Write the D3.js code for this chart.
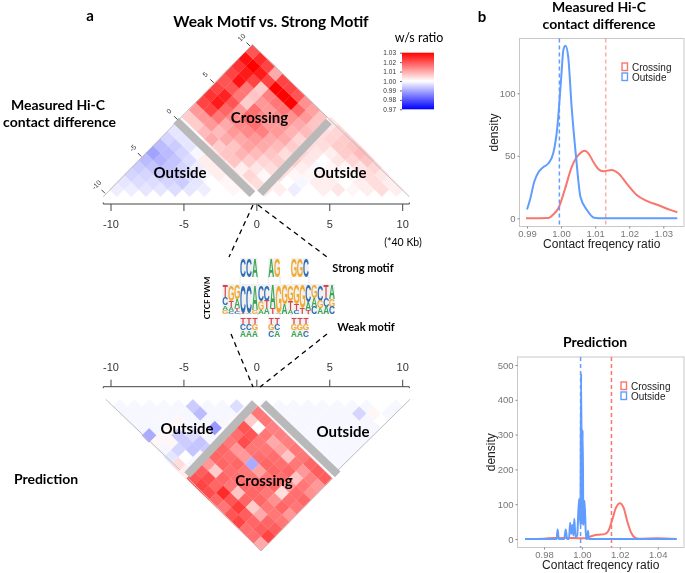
<!DOCTYPE html>
<html>
<head>
<meta charset="utf-8">
<script src="https://d3js.org/d3.v7.min.js"></script>
<style>
  html, body { margin: 0; padding: 0; background: #fff; }
  svg { display: block; filter: blur(0.3px); }
  text { font-family: "Liberation Sans", Arial, sans-serif; }
  .label { font-family: Lato, "Open Sans", sans-serif; fill: #000; }
  .bold { font-weight: 700; }
</style>
</head>
<body>
<div id="chart"></div>
<script>
// ---- heatmap values, w/s ratio ----
// crossing: row = bins left of the motif, column = bins right of the motif
const measuredCrossing = [
  [1.004,1.001,1.004,1.006,1.004,1.006,1.005,1.008,1.007,1.007],
  [1.005,1.003,1.005,1.007,1.008,1.010,1.009,1.010,1.012,1.011],
  [1.002,1.006,1.008,1.010,1.010,1.012,1.012,1.013,1.018,1.013],
  [1.007,1.009,1.011,1.012,1.015,1.012,1.014,1.016,1.030,1.020],
  [1.007,1.007,1.010,1.014,1.017,1.014,1.012,1.016,1.030,1.022],
  [1.006,1.010,1.012,1.014,1.018,1.017,1.012,1.015,1.030,1.022],
  [1.010,1.008,1.010,1.014,1.012,1.006,1.007,1.006,1.022,1.010],
  [1.008,1.012,1.016,1.018,1.020,1.016,1.016,1.022,1.027,1.022],
  [1.006,1.012,1.022,1.027,1.026,1.020,1.028,1.027,1.030,1.025],
  [1.006,1.012,1.022,1.024,1.022,1.020,1.022,1.024,1.028,1.020]
];
// outside: row = distance from the diagonal, column = position along it
const measuredLeft = [
  [.998,.998,.997,.997,.996,.997,.998,1.000,1.001,1.002],
  [.997,.996,.996,.995,.994,.997,1.000,1.001,1.002],
  [.995,.995,.994,.994,.996,.999,1.002,1.003],
  [.994,.993,.993,.995,.998,1.002,1.003],
  [.992,.991,.993,.996,1.002,1.004],
  [.989,.992,.995,.999,1.003],
  [.992,.994,.997,1.002],
  [.995,.997,1.000],
  [.997,.999],
  [.999]
];
const measuredRight = [
  [1.003,1.002,.998,1.000,1.002,1.003,1.001,1.002,1.004,1.002],
  [1.002,1.000,.999,1.002,1.002,1.000,1.002,1.004,1.002],
  [1.004,1.001,1.001,1.002,1.001,1.001,1.004,1.003],
  [1.004,1.002,.999,1.001,1.001,1.003,1.005],
  [1.006,1.003,1.000,1.003,1.005,1.007],
  [1.005,1.003,1.002,1.006,1.008],
  [1.004,1.004,1.006,1.007],
  [1.004,1.005,1.006],
  [1.004,1.005],
  [1.003]
];
const predictedCrossing = [
  [1.016,1.016,1.015,1.015,1.015,1.016,1.016,1.018,1.019,1.019],
  [1.006,1.000,1.016,1.010,1.011,1.007,1.016,1.012,1.015,1.012],
  [1.020,1.020,1.016,1.016,1.017,1.017,1.018,1.007,1.016,1.013],
  [1.017,1.021,1.016,1.017,1.018,1.018,1.017,1.012,1.017,1.018],
  [1.016,1.012,1.012,.990,1.011,1.016,1.018,1.004,1.017,1.016],
  [1.018,1.017,1.018,1.016,1.016,1.018,1.016,1.013,1.018,1.012],
  [1.018,1.018,1.017,1.017,1.018,1.018,1.018,1.016,1.016,1.016],
  [1.012,1.006,1.018,1.016,1.007,1.018,1.006,1.010,1.018,1.019],
  [1.019,1.021,1.018,1.025,1.020,1.023,1.019,1.018,1.019,1.022],
  [1.020,1.022,1.021,1.018,1.016,1.020,1.022,1.017,1.017,1.010]
];
const predictedLeft = [
  [.999,.999,.999,.999,.999,.994,.999,.999,.996,.999],
  [.999,.999,.999,.999,.999,.992,.999,.999,.999],
  [.999,.999,.999,1.001,.999,.999,.999,1.001],
  [.999,.999,1.001,.999,.999,.988,1.001],
  [.990,1.001,.994,.996,.999,1.000],
  [1.001,1.001,.994,.993,.999],
  [.999,.995,.993,.994],
  [.997,1.000,.999],
  [1.004,.999],
  [1.002]
];
const predictedRight = [
  [.999,.999,.999,.999,.999,.999,.999,.999,1.000,.999],
  [.999,.999,.999,.999,.999,.999,.995,1.001,.999],
  [.999,.999,.999,.999,.999,.999,.999,1.000],
  [.999,.999,.999,.999,.999,.999,.999],
  [.999,.999,.999,.999,.999,.999],
  [.999,.999,.999,.999,.999],
  [.999,.999,.999,.999],
  [.999,.999,.999],
  [.999,.999],
  [.999]
];
const legendTicks = [0.97,0.98,0.99,1.00,1.01,1.02,1.03];
const axisTicks = [-10,-5,0,5,10];

// ---- density curves, [ratio, density] ----
const measuredOutside = [[.99,7],[.9909,15],[.9921,29],[.9934,37],[.9948,41],[.9963,44],[.9977,52],[.9989,73],[1.0,111],[1.0007,135],[1.0013,138],[1.0021,129],[1.0031,89],[1.0044,49],[1.0057,17],[1.0075,7],[1.0097,.5],[1.0124,0],[1.0341,0]];
const measuredCrossCurve = [[.9897,0],[.9963,.3],[.9977,3],[.9992,8],[1.0011,23],[1.0031,41],[1.0046,49],[1.006,53],[1.007,54],[1.008,52],[1.0095,45],[1.0109,39.5],[1.0124,37.6],[1.0148,38.7],[1.0168,36],[1.0192,28],[1.0222,18.7],[1.0251,14],[1.029,10],[1.032,6.7],[1.0341,4.8]];
const predictedOutside = [[.97,0],[.9866,0],[.9872,27],[.9878,0],[.9906,0],[.9915,27],[.9922,0],[.9932,0],[.9938,47],[.9944,15],[.995,40],[.9955,10],[.996,58],[.9966,5],[.9975,10],[.9985,115],[.9992,40],[.9996,476],[1.0,40],[1.0004,313],[1.0008,40],[1.0014,110],[1.0022,0],[1.0028,0],[1.0032,24],[1.0037,0],[1.05,0]];
const predictedCrossCurve = [[.97,0],[.98,1],[.985,3],[.995,3],[1.002,2],[1.005,8],[1.008,12],[1.012,14],[1.014,24],[1.016,55],[1.018,90],[1.02,103],[1.022,90],[1.024,50],[1.026,18],[1.028,4],[1.03,1],[1.04,2],[1.05,0]];
const measuredMeans = [1.0131, .9995];
const predictedMeans = [1.0156, .9993];
const seriesNames = ["Crossing","Outside"];
const seriesColors = ["#F8766D","#619CFF"];

// ---- motif logos, each column top to bottom as [base, weight] ----
const ctcfLogo = [
  [["T",.45],["C",.25],["A",.15],["G",.15]],
  [["G",.55],["T",.2],["A",.15],["C",.1]],
  [["G",.5],["A",.3],["T",.1],["C",.1]],
  [["C",.95],["T",.05]],
  [["C",.95],["A",.05]],
  [["A",.85],["G",.15]],
  [["C",.55],["G",.3],["A",.15]],
  [["C",.55],["T",.25],["A",.2]],
  [["A",.8],["T",.2]],
  [["G",.95],["A",.05]],
  [["G",.65],["A",.35]],
  [["G",.55],["T",.3],["A",.15]],
  [["G",.65],["T",.2],["C",.15]],
  [["G",.8],["T",.2]],
  [["C",.6],["A",.25],["T",.15]],
  [["G",.45],["A",.3],["C",.25]],
  [["C",.55],["G",.25],["A",.2]],
  [["T",.45],["C",.3],["A",.25]],
  [["A",.5],["G",.25],["C",.25]]
];
const strongLogos = [
  {start:3, cols:[[["C",1]],[["C",1]],[["A",1]]]},
  {start:7.75, cols:[[["A",1]],[["G",1]]]},
  {start:11.6, cols:[[["G",1]],[["G",1]],[["C",1]]]}
];
const weakLogos = [
  {start:3, cols:[[["T",.34],["C",.33],["A",.33]],[["T",.34],["C",.33],["A",.33]],[["T",.34],["G",.33],["A",.33]]]},
  {start:7.75, cols:[[["T",.34],["G",.33],["C",.33]],[["T",.34],["C",.33],["A",.33]]]},
  {start:11.6, cols:[[["T",.34],["G",.33],["A",.33]],[["T",.34],["G",.33],["A",.33]],[["T",.34],["G",.33],["C",.33]]]}
];
const baseColors = {A:"#3aa655", C:"#2f6db5", G:"#f3a92f", T:"#d8434e"};

const svg = d3.select("#chart").append("svg")
    .attr("width", 685)
    .attr("height", 573);

const color = d3.scaleLinear().domain([.97,1,1.03]).range(["#0000ff","#ffffff","#ff0000"]);
const xBins = d3.scaleLinear().domain([-10,10]).range([111,402.7]);

function crossingCells(matrix) {
  let cells = [];
  matrix.forEach(function(row, i) {
    row.forEach(function(v, j) {
      cells.push({m: (j - i) / 2, d: (i + j) / 2, v: v});
    });
  });
  return cells;
}

function outsideCells(matrix, start) {
  let cells = [];
  matrix.forEach(function(row, k) {
    row.forEach(function(v, p) {
      cells.push({m: start + p + k / 2 + .5, d: k / 2, v: v});
    });
  });
  return cells;
}

// draw diamonds; px maps (bin position, distance) to a screen point
function drawCells(cells, px) {
  svg.append("g").selectAll("path")
    .data(cells)
    .enter()
    .append("path")
    .attr("d", function(c) {
      return "M" + [px(c.m - .5, c.d + .5), px(c.m, c.d + 1), px(c.m + .5, c.d + .5), px(c.m, c.d)].join("L") + "Z";
    })
    .attr("fill", function(c) { return color(c.v); })
    .attr("stroke", function(c) { return color(c.v); })
    .attr("stroke-width", .3);
}

function projector(dx, shear, yScale) {
  return function(m, d) {
    return [xBins(m) + dx + shear * d, yScale(d)];
  };
}

function drawEdge(points, stroke) {
  svg.append("path")
    .attr("d", d3.line()(points))
    .attr("fill", "none")
    .attr("stroke", stroke)
    .attr("stroke-width", 1);
}

function drawBand(px, ends) {
  svg.append("path")
    .attr("d", d3.line()(ends.map(function(e) { return px(e[0], e[1]); })))
    .attr("fill", "none")
    .attr("stroke", "#b9b9b9")
    .attr("stroke-width", 8);
}

// top triangle
const yTopCross = d3.scaleLinear().domain([0,10]).range([190,44.5]);
const yTopOut = d3.scaleLinear().domain([0,10]).range([196.7,50.9]);
const topCross = projector(.3, -.47, yTopCross);
const topLeft = projector(-1.5, 0, yTopOut);
const topRight = projector(1, 0, yTopOut);
drawCells(outsideCells(measuredLeft, -10), topLeft);
drawCells(outsideCells(measuredRight, 0), topRight);
drawCells(crossingCells(measuredCrossing), topCross);
drawEdge([[103.3,196.7],[252.3,44.5],[409.3,196.7]], "#bdbdbd");
drawBand(topCross, [[-5.4,4.76],[-.33,-.29]]);
drawBand(topCross, [[5.06,4.71],[.2,-.23]]);

// bottom triangle
const yBotCross = d3.scaleLinear().domain([0,10]).range([406,551]);
const yBotOut = d3.scaleLinear().domain([0,10]).range([399.3,544.3]);
const botCross = projector(1, .33, yBotCross);
const botLeft = projector(1.7, 0, yBotOut);
const botRight = projector(.3, 0, yBotOut);
drawCells(outsideCells(predictedLeft, -10), botLeft);
drawCells(outsideCells(predictedRight, 0), botRight);
drawCells(crossingCells(predictedCrossing), botCross);
drawEdge([[105.7,399.3],[180,470]], "#bdbdbd");
drawEdge([[410,399.3],[338,470]], "#bdbdbd");
drawEdge([[188,478],[261,551],[332,478]], "#d9b0b0");
drawBand(botCross, [[-.2,-.2],[-4.95,4.76]]);
drawBand(botCross, [[.38,-.2],[5.37,4.72]]);

// horizontal bin axes
function drawBinAxis(y, dir) {
  let g = svg.append("g").attr("stroke", "#444");
  g.append("path")
    .attr("d", d3.line()([[103.3, y + dir * -1.5], [103.3, y], [409.3, y], [409.3, y + dir * -1.5]]))
    .attr("fill", "none");
  g.selectAll("line").data(axisTicks).enter().append("line")
    .attr("x1", function(d) { return xBins(d); })
    .attr("x2", function(d) { return xBins(d); })
    .attr("y1", y)
    .attr("y2", y + dir * 7);
  svg.append("g").selectAll("text").data(axisTicks).enter().append("text")
    .attr("x", function(d) { return xBins(d); })
    .attr("y", y + dir * 20 + 4)
    .attr("text-anchor", "middle")
    .attr("font-size", 11)
    .attr("fill", "#333")
    .text(function(d) { return d; });
}
drawBinAxis(204, 1);
drawBinAxis(386.7, -1);

// diagonal axis of the top triangle
const diagX = d3.scaleLinear().domain([-10,10]).range([105,250]);
const diagY = d3.scaleLinear().domain([-10,10]).range([193.3,46]);
const diag = svg.append("g");
diag.selectAll("line").data(axisTicks).enter().append("line")
  .attr("x1", function(d) { return diagX(d); })
  .attr("y1", function(d) { return diagY(d); })
  .attr("x2", function(d) { return diagX(d) - 3.5; })
  .attr("y2", function(d) { return diagY(d) - 3.5; })
  .attr("stroke", "#444");
diag.selectAll("text").data(axisTicks).enter().append("text")
  .attr("transform", function(d) {
    return "translate(" + (diagX(d) - 8.5) + "," + (diagY(d) - 8.5) + ") rotate(-45)";
  })
  .attr("text-anchor", "middle")
  .attr("dy", "0.35em")
  .attr("font-size", 7)
  .attr("fill", "#333")
  .text(function(d) { return d; });

// colour key
const legendY = d3.scaleLinear().domain([.97,1.03]).range([109.3,52.7]);
const gradient = svg.append("defs").append("linearGradient")
  .attr("id", "key")
  .attr("x1", 0).attr("x2", 0).attr("y1", 1).attr("y2", 0);
gradient.selectAll("stop").data(legendTicks).enter().append("stop")
  .attr("offset", function(d) { return (d - .97) / .06; })
  .attr("stop-color", function(d) { return color(d); });
svg.append("rect")
  .attr("x", 402)
  .attr("y", legendY(1.03))
  .attr("width", 32)
  .attr("height", legendY(.97) - legendY(1.03))
  .attr("fill", "url(#key)");
const keyAxis = svg.append("g")
  .attr("transform", "translate(402,0)")
  .call(d3.axisLeft(legendY).tickValues(legendTicks).tickFormat(d3.format(".2f")).tickSize(2));
keyAxis.select(".domain").remove();
keyAxis.selectAll("text").attr("font-size", 6.5).attr("font-family", "Liberation Sans").attr("fill", "#333").attr("x", -6);
keyAxis.selectAll("line").attr("stroke", "#666");

// dashed guides from the motif to the axes
const guides = [
  [[253,205],[229,257]],
  [[258,205],[327,257]],
  [[231,334],[253,387]],
  [[327,334],[260,387]]
];
guides.forEach(function(g) {
  svg.append("path")
    .attr("d", d3.line()(g))
    .attr("stroke", "#000")
    .attr("stroke-width", 1.3)
    .attr("stroke-dasharray", "5,4");
});

// motif logos
const logoX = d3.scaleLinear().domain([0,19]).range([222.3,335]);

function drawLogo(cols, start, top, height) {
  let colW = logoX(1) - logoX(0);
  let x0 = logoX(start);
  svg.append("rect")
    .attr("x", x0)
    .attr("y", top)
    .attr("width", colW * cols.length)
    .attr("height", height)
    .attr("fill", "#f1f1f1");
  cols.forEach(function(stack, c) {
    let y = top;
    stack.forEach(function(s) {
      let h = s[1] * height;
      y += h;
      svg.append("text")
        .attr("transform", "translate(" + (x0 + (c + .5) * colW) + "," + y + ") scale(" + (colW / 7.2) + "," + (h / 7.3) + ")")
        .attr("text-anchor", "middle")
        .attr("font-size", 10)
        .attr("font-weight", 700)
        .attr("fill", baseColors[s[0]])
        .text(s[0]);
    });
  });
}

// dotted drops joining the small logos to the full motif
function drawDrops(logos, y1, y2) {
  logos.forEach(function(l) {
    [l.start, l.start + l.cols.length].forEach(function(e) {
      svg.append("line")
        .attr("x1", logoX(e)).attr("x2", logoX(e))
        .attr("y1", y1).attr("y2", y2)
        .attr("stroke", "#aaa")
        .attr("stroke-width", .6)
        .attr("stroke-dasharray", "1,1.5");
    });
  });
}
drawDrops(strongLogos, 277, 284);
drawDrops(weakLogos, 314, 317);
drawLogo(ctcfLogo, 0, 284, 30);
strongLogos.forEach(function(l) { drawLogo(l.cols, l.start, 258, 19); });
weakLogos.forEach(function(l) { drawLogo(l.cols, l.start, 317, 19.5); });

// density panels
function densityPanel(o) {
  let x = d3.scaleLinear().domain(o.xDomain).range(o.xRange);
  let y = d3.scaleLinear().domain(o.yDomain).range(o.yRange);
  svg.append("rect")
    .attr("x", o.box[0]).attr("y", o.box[1])
    .attr("width", o.box[2] - o.box[0]).attr("height", o.box[3] - o.box[1])
    .attr("fill", "#fff").attr("stroke", "#c8c8c8").attr("stroke-width", 1);
  let line = d3.line()
    .x(function(d) { return x(d[0]); })
    .y(function(d) { return y(d[1]); })
    .curve(o.curve);
  o.curves.forEach(function(c, i) {
    svg.append("path")
      .attr("d", line(c))
      .attr("fill", "none")
      .attr("stroke", seriesColors[i])
      .attr("stroke-width", 2);
    svg.append("line")
      .attr("x1", x(o.means[i])).attr("x2", x(o.means[i]))
      .attr("y1", o.box[1]).attr("y2", o.box[3])
      .attr("stroke", seriesColors[i])
      .attr("stroke-width", 1.5)
      .attr("stroke-opacity", o.meanOpacity[i])
      .attr("stroke-dasharray", "4,3");
  });
  let xAxis = svg.append("g")
    .attr("transform", "translate(0," + o.box[3] + ")")
    .call(d3.axisBottom(x).tickValues(o.xTicks).tickFormat(d3.format(".2f")).tickSize(2).tickPadding(2));
  let yAxis = svg.append("g")
    .attr("transform", "translate(" + o.box[0] + ",0)")
    .call(d3.axisLeft(y).tickValues(o.yTicks).tickFormat(d3.format("d")).tickSize(2).tickPadding(2));
  [xAxis, yAxis].forEach(function(a) {
    a.select(".domain").remove();
    a.selectAll("line").attr("stroke", "#888");
    a.selectAll("text").attr("font-size", 9.5).attr("font-family", "Liberation Sans").attr("fill", "#777");
  });
  svg.append("text")
    .attr("x", (o.box[0] + o.box[2]) / 2 + 0)
    .attr("y", o.box[3] + 21)
    .attr("text-anchor", "middle")
    .attr("font-size", 12)
    .attr("fill", "#222")
    .text("Contact freqency ratio");
  svg.append("text")
    .attr("transform", "translate(" + o.yLabelX + "," + (o.box[1] + o.box[3]) / 2 + ") rotate(-90)")
    .attr("text-anchor", "middle")
    .attr("font-size", 12)
    .attr("fill", "#222")
    .text("density");
  seriesNames.forEach(function(name, i) {
    let ky = o.keyY + i * 10;
    svg.append("rect")
      .attr("x", o.keyX).attr("y", ky)
      .attr("width", 5.5).attr("height", 7.5)
      .attr("fill", "#fff")
      .attr("stroke", seriesColors[i])
      .attr("stroke-width", 1.4);
    svg.append("text")
      .attr("x", o.keyX + 10).attr("y", ky + 7.5)
      .attr("font-size", 10)
      .attr("fill", "#222")
      .text(name);
  });
}

densityPanel({
  box: [519.5,38.5,684,226.5],
  xDomain: [.99,1.03], xRange: [527,663.3], xTicks: [.99,1,1.01,1.02,1.03],
  yDomain: [0,100], yRange: [218.3,93.3], yTicks: [0,50,100],
  curves: [measuredCrossCurve, measuredOutside], means: measuredMeans, meanOpacity: [.6,1],
  curve: d3.curveMonotoneX, yLabelX: 498, keyX: 622, keyY: 63
});
densityPanel({
  box: [517.5,357,684,547.5],
  xDomain: [.98,1.04], xRange: [544,657.7], xTicks: [.98,1,1.02,1.04],
  yDomain: [0,500], yRange: [539,365], yTicks: [0,100,200,300,400,500],
  curves: [predictedCrossCurve, predictedOutside], means: predictedMeans, meanOpacity: [1,1],
  curve: d3.curveMonotoneX, yLabelX: 495, keyX: 621, keyY: 382
});

// text labels
function label(str, x, y, size, bold, anchor) {
  svg.append("text")
    .attr("class", bold ? "label bold" : "label")
    .attr("x", x)
    .attr("y", y)
    .attr("font-size", size)
    .attr("text-anchor", anchor || "middle")
    .text(str);
}
label("a", 90, 21, 15, true);
label("b", 482, 22, 15, true);
label("Weak Motif vs. Strong Motif", 271, 27, 15.5, true);
label("w/s ratio", 419, 42, 12.5, false);
label("Measured Hi-C", 58, 110, 14, true);
label("contact difference", 59.5, 127, 14, true);
label("Prediction", 46, 484, 14, true);
label("Crossing", 259.5, 123, 15, true);
label("Outside", 180, 178, 15, true);
label("Outside", 340, 178, 15, true);
label("Crossing", 264, 486, 15, true);
label("Outside", 187, 434, 15, true);
label("Outside", 343, 437, 15, true);
label("(*40 Kb)", 403, 246, 10.5, false);
label("Strong motif", 363, 272, 11, true);
label("Weak motif", 366, 331, 11, true);
label("Measured Hi-C", 599, 12, 14, true);
label("contact difference", 599, 29, 14, true);
label("Prediction", 595, 347, 14, true);
svg.append("text")
  .attr("class", "label bold")
  .attr("transform", "translate(210,298) rotate(-90)")
  .attr("text-anchor", "middle")
  .attr("font-size", 8)
  .text("CTCF PWM");
</script>
</body>
</html>
